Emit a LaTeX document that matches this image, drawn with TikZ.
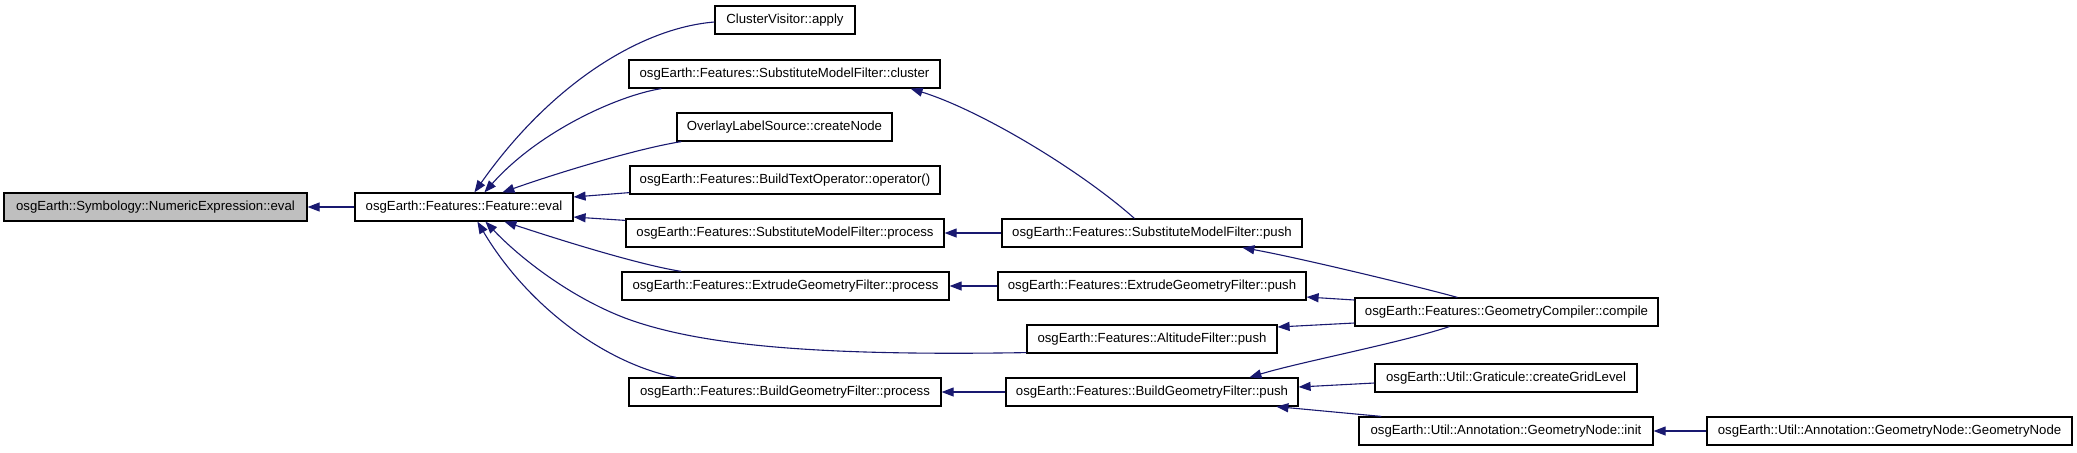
\documentclass[tikz,border=0pt]{standalone}
\usepackage{fontspec}
\setmainfont{Liberation Sans}
\usetikzlibrary{arrows.meta,calc}
\definecolor{edgecol}{HTML}{191970}
\definecolor{rootfill}{HTML}{BFBFBF}
\begin{document}
\begin{tikzpicture}[x=0.5pt,y=-0.5pt,
  box/.style={draw=black,line width=0.6pt,fill=white,inner sep=0pt,
    minimum height=14pt,font=\fontsize{6.6}{8}\selectfont,text=black},
  edge/.style={draw=edgecol,line width=0.55pt,
    -{Triangle[length=6pt,width=4.5pt,fill=edgecol]}}]
\useasboundingbox (0,0) rectangle (2077,452);
% nodes
\node[box,fill=rootfill,minimum width=151.5pt] (A) at (155.5,207) {osgEarth::Symbology::NumericExpression::eval};
\node[box,minimum width=109pt] (B) at (464,207) {osgEarth::Features::Feature::eval};
\node[box,minimum width=70pt] (C1) at (785,20) {ClusterVisitor::apply};
\node[box,minimum width=155.5pt] (C2) at (784.5,74) {osgEarth::Features::SubstituteModelFilter::cluster};
\node[box,minimum width=107.5pt] (C3) at (784.5,127) {OverlayLabelSource::createNode};
\node[box,minimum width=155pt] (C4) at (785,180) {osgEarth::Features::BuildTextOperator::operator()};
\node[box,minimum width=159pt] (C5) at (785,233) {osgEarth::Features::SubstituteModelFilter::process};
\node[box,minimum width=163.5pt] (C6) at (785.5,286) {osgEarth::Features::ExtrudeGeometryFilter::process};
\node[box,minimum width=156pt] (C7) at (785,392) {osgEarth::Features::BuildGeometryFilter::process};
\node[box,minimum width=150pt] (D1) at (1152,233) {osgEarth::Features::SubstituteModelFilter::push};
\node[box,minimum width=154pt] (D2) at (1152,286) {osgEarth::Features::ExtrudeGeometryFilter::push};
\node[box,minimum width=125pt] (D3) at (1152,339) {osgEarth::Features::AltitudeFilter::push};
\node[box,minimum width=146pt] (D4) at (1152,392) {osgEarth::Features::BuildGeometryFilter::push};
\node[box,minimum width=151.5pt] (E1) at (1506.5,312) {osgEarth::Features::GeometryCompiler::compile};
\node[box,minimum width=131pt] (E2) at (1506,378) {osgEarth::Util::Graticule::createGridLevel};
\node[box,minimum width=147pt] (E3) at (1506,431) {osgEarth::Util::Annotation::GeometryNode::init};
\node[box,minimum width=182.5pt] (F) at (1889.5,431) {osgEarth::Util::Annotation::GeometryNode::GeometryNode};
% edges
\draw[edge] (B.west) -- (A.east);
\draw[edge] ($(C1.west)+(0,2)$) .. controls (640,28) and (550,85) .. ($(B.north west)+(120,0)$);
\draw[edge] ($(C2.south west)+(33,0)$) .. controls (620,95) and (540,130) .. ($(B.north west)+(130,0)$);
\draw[edge] ($(C3.south west)+(5,0)$) .. controls (640,148) and (560,172) .. ($(B.north west)+(148,0)$);
\draw[edge] ($(C4.south west)+(0,-2)$) -- ($(B.east)+(0,-10)$);
\draw[edge] ($(C5.north west)+(0,2)$) -- ($(B.east)+(0,10)$);
\draw[edge] ($(C6.north west)+(60,0)$) .. controls (640,265) and (560,240) .. ($(B.south west)+(150,0)$);
\draw[edge] ($(D3.south west)+(0,-1)$) .. controls (820,356) and (700,346) .. (625,318)
  .. controls (570,297) and (520,258) .. ($(B.south west)+(131,0)$);
\draw[edge] ($(C7.north west)+(48,0)$) .. controls (610,365) and (530,310) .. ($(B.south west)+(123,0)$);
\draw[edge] (D1.west) -- (C5.east);
\draw[edge] ($(D1.north west)+(133,0)$) .. controls (1080,170) and (980,110) .. ($(C2.south east)+(-30,0)$);
\draw[edge] (D2.west) -- (C6.east);
\draw[edge] (D4.west) -- (C7.east);
\draw[edge] ($(E1.north west)+(103,0)$) .. controls (1420,287) and (1300,258) .. ($(D1.south west)+(241,0)$);
\draw[edge] ($(E1.west)+(0,-12)$) -- ($(D2.east)+(0,11)$);
\draw[edge] ($(E1.west)+(0,11)$) -- ($(D3.east)+(0,-12)$);
\draw[edge] ($(E1.south west)+(95,0)$) .. controls (1400,343) and (1300,362) .. ($(D4.north west)+(244,0)$);
\draw[edge] ($(E2.west)+(0,5)$) -- ($(D4.east)+(0,-5)$);
\draw[edge] ($(E3.north west)+(23,0)$) -- ($(D4.south west)+(271,0)$);
\draw[edge] (F.west) -- (E3.east);
\end{tikzpicture}
\end{document}
